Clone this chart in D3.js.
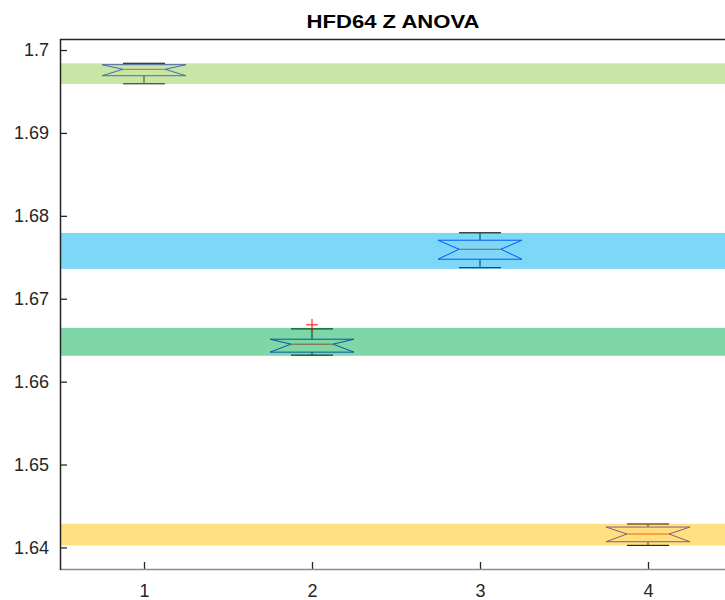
<!DOCTYPE html>
<html>
<head>
<meta charset="utf-8">
<script src="https://cdn.jsdelivr.net/npm/d3@7"></script>
<style>
  html, body { margin: 0; padding: 0; background: #fff; }
  svg { display: block; }
</style>
</head>
<body>
<script>
// ---- data ----
const groups = [1, 2, 3, 4];
const whiskerLow  = [1.69594, 1.66320, 1.67376, 1.64024];
const q1          = [1.69690, 1.66356, 1.67477, 1.64069];
const medians     = [1.69767, 1.66452, 1.67597, 1.64162];
const q3          = [1.69823, 1.66512, 1.67706, 1.64246];
const whiskerHigh = [1.69840, 1.66637, 1.67794, 1.64282];
const outlierGroup = [2];
const outlierValue = [1.66685];
const bandLow  = [1.69590, 1.66312, 1.67360, 1.64024];
const bandHigh = [1.69840, 1.66649, 1.67794, 1.64286];
const bandColors = ["#92D050", "#00B050", "#00B0F0", "#FFC000"];
const yTicks = [1.64, 1.65, 1.66, 1.67, 1.68, 1.69, 1.70];
const xTicks = [1, 2, 3, 4];
const chartTitle = "HFD64 Z ANOVA";

// ---- layout ----
const W = 725, H = 600;
const mLeft = 60, mRight = 732, mTop = 39, mBottom = 569;

const svg = d3.select("body").append("svg")
  .attr("width", W).attr("height", H);

const x = d3.scaleLinear().domain([0.5, 4.5]).range([mLeft, mRight]);
const y = d3.scaleLinear().domain([1.6374, 1.70133]).range([mBottom, mTop]);

const boxHalf = 0.25, notchHalf = 0.125, capHalf = 0.125;

const plot = svg.append("g");

// boxes
groups.forEach((g, i) => {
  const gg = plot.append("g");
  gg.append("line").attr("x1", x(g)).attr("x2", x(g))
    .attr("y1", y(whiskerHigh[i])).attr("y2", y(q3[i]))
    .attr("stroke", "#000").attr("stroke-width", 1.2);
  gg.append("line").attr("x1", x(g)).attr("x2", x(g))
    .attr("y1", y(whiskerLow[i])).attr("y2", y(q1[i]))
    .attr("stroke", "#000").attr("stroke-width", 1.2);
  [whiskerHigh[i], whiskerLow[i]].forEach(v => {
    gg.append("line").attr("x1", x(g - capHalf)).attr("x2", x(g + capHalf))
      .attr("y1", y(v)).attr("y2", y(v))
      .attr("stroke", "#000").attr("stroke-width", 1.2);
  });
  const pts = [
    [g - boxHalf, q1[i]], [g - notchHalf, medians[i]], [g - boxHalf, q3[i]],
    [g + boxHalf, q3[i]], [g + notchHalf, medians[i]], [g + boxHalf, q1[i]]
  ];
  gg.append("path")
    .attr("d", d3.line().x(d => x(d[0])).y(d => y(d[1]))(pts) + "Z")
    .attr("fill", "none").attr("stroke", "#0000ff").attr("stroke-width", 1);
  gg.append("line").attr("x1", x(g - notchHalf)).attr("x2", x(g + notchHalf))
    .attr("y1", y(medians[i])).attr("y2", y(medians[i]))
    .attr("stroke", "#ff0000").attr("stroke-width", 1);
});

// bands (semi-transparent, drawn over boxes)
groups.forEach((g, i) => {
  plot.append("rect")
    .attr("x", mLeft + 1).attr("width", mRight - mLeft)
    .attr("y", y(bandHigh[i])).attr("height", y(bandLow[i]) - y(bandHigh[i]))
    .attr("fill", bandColors[i]).attr("fill-opacity", 0.5);
});

// outliers
outlierGroup.forEach((g, i) => {
  const cx = x(g), cy = y(outlierValue[i]);
  plot.append("path")
    .attr("d", `M${cx - 6},${cy}H${cx + 6}M${cx},${cy - 6}V${cy + 6}`)
    .attr("stroke", "#ff0000").attr("stroke-width", 1).attr("fill", "none");
});

// axes
const axisColor = "#262626";
const fontFam = "'Liberation Sans', Arial, sans-serif";
const yAxis = d3.axisLeft(y).tickValues(yTicks).tickFormat(d3.format("~g"))
  .tickSizeInner(-7).tickSizeOuter(0).tickPadding(11);
const gy = svg.append("g").attr("transform", `translate(${mLeft},0)`).call(yAxis);
gy.select(".domain").remove();
gy.selectAll(".tick line").attr("stroke", axisColor).attr("stroke-width", 1.3);
gy.selectAll(".tick text").attr("fill", axisColor)
  .style("font-family", fontFam).style("font-size", "18px");

const xAxis = d3.axisBottom(x).tickValues(xTicks).tickFormat(d3.format("d"))
  .tickSizeInner(-7).tickSizeOuter(0).tickPadding(15);
const gx = svg.append("g").attr("transform", `translate(0,${mBottom})`).call(xAxis);
gx.select(".domain").remove();
gx.selectAll(".tick line").attr("stroke", axisColor).attr("stroke-width", 1.3);
gx.selectAll(".tick text").attr("fill", axisColor)
  .style("font-family", fontFam).style("font-size", "18px");

// frame lines
svg.append("line").attr("x1", mLeft).attr("x2", mRight).attr("y1", mBottom + 0.5).attr("y2", mBottom + 0.5)
  .attr("stroke", "#8c8c8c").attr("stroke-width", 1.5);
svg.append("line").attr("x1", mLeft).attr("x2", mRight).attr("y1", mTop + 0.5).attr("y2", mTop + 0.5)
  .attr("stroke", axisColor).attr("stroke-width", 1.5);
svg.append("line").attr("x1", mLeft + 0.5).attr("x2", mLeft + 0.5).attr("y1", mTop).attr("y2", mBottom + 1)
  .attr("stroke", axisColor).attr("stroke-width", 1.5);

// title
svg.append("text")
  .attr("x", 393).attr("y", 28)
  .attr("text-anchor", "middle")
  .attr("fill", "#000")
  .attr("textLength", 173).attr("lengthAdjust", "spacingAndGlyphs")
  .style("font-family", fontFam)
  .style("font-size", "19px").style("font-weight", "bold")
  .text(chartTitle);
</script>
</body>
</html>
